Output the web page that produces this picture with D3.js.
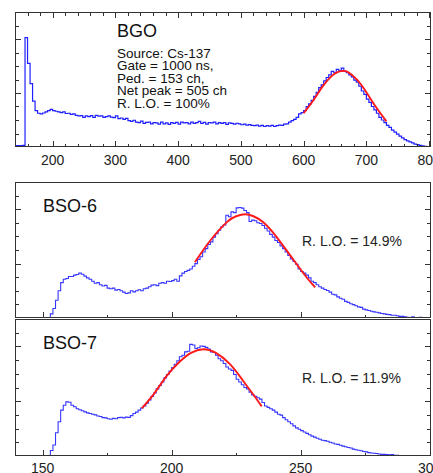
<!DOCTYPE html>
<html><head><meta charset="utf-8">
<script src="https://cdn.jsdelivr.net/npm/d3@7"></script>
<style>
html,body{margin:0;padding:0;background:#fff;}
svg{display:block;font-family:"Liberation Sans",Arial,Helvetica,sans-serif;}
</style></head>
<body>
<svg id="c" width="433" height="473"></svg>
<script>
// ---------- DATA ----------
// BGO spectrum: 4-channel bins starting at channel 140
const bgoStart = 140, bgoBin = 4;
const bgoCounts = [
0.1,0.1,0.1,0.12,8.1,6.2,4.7,3.4,2.7,2.5,2.45,2.52,2.6,2.7,2.78,2.7,2.65,2.6,2.55,2.6,
2.48,2.5,2.42,2.45,2.35,2.3,2.32,2.2,2.3,2.25,2.32,2.2,2.35,2.28,2.3,2.2,2.25,2.3,2.22,2.18,
2.3,2.1,2.15,2.05,2.12,1.95,1.9,1.98,1.85,1.8,1.92,1.75,1.82,1.85,1.72,1.8,1.78,1.7,1.85,1.72,
1.78,1.68,1.8,1.75,1.82,1.7,1.85,1.78,1.8,1.72,1.85,1.75,1.8,1.9,1.75,1.82,1.7,1.8,1.78,1.85,
1.72,1.8,1.75,1.8,1.68,1.78,1.75,1.7,1.76,1.72,1.65,1.7,1.62,1.66,1.6,1.58,1.62,1.55,1.6,1.52,
1.58,1.55,1.6,1.52,1.58,1.62,1.6,1.7,1.72,1.85,1.95,2.05,2.2,2.45,2.55,2.7,3.0,3.2,3.45,3.75,
4.05,4.4,4.6,4.9,5.15,5.35,5.6,5.5,5.75,5.65,5.85,5.6,5.5,5.35,5.2,4.95,4.8,4.5,4.15,3.9,
3.55,3.3,3.0,2.75,2.5,2.2,2.0,1.8,1.6,1.45,1.25,1.1,0.95,0.8,0.68,0.55,0.45,0.38,0.3,0.22,
0.18,0.12,0.08,0.05,0.03
];
const bgoFitCh  = [600,615,630,645,655,662,670,685,700,715,732];
const bgoFitVal = [2.5,3.42,4.47,5.27,5.57,5.63,5.57,4.99,4.06,2.98,1.9];

// BSO spectra: 1-channel bins starting at channel 140
const bsoStart = 140, bsoBin = 1;
const bso6Counts = [
0,0,0,0,0,0,0,0,0,0,0,0,0,
0.3,0.7,1.3,2.0,2.6,2.85,2.9,3.05,3.05,3.15,3.2,3.3,3.22,3.08,2.95,2.85,2.7,2.55,2.6,2.45,2.35,2.4,2.2,2.15,2.2,2.05,2.1,
2.0,1.9,1.8,1.85,2.0,1.92,2.0,2.08,2.0,2.15,2.2,2.3,2.42,2.45,2.38,2.55,2.6,2.55,2.7,2.68,
2.75,2.85,2.7,3.1,3.3,3.42,3.5,3.6,3.8,4.0,4.3,4.5,4.85,5.1,5.4,5.6,5.95,6.2,6.45,6.7,
6.85,7.55,7.45,7.8,7.75,8.1,8.12,8.08,7.9,7.75,7.1,7.2,7.15,7.0,6.95,6.8,6.6,6.4,6.15,5.95,
5.7,5.55,5.3,5.1,4.85,4.6,4.35,4.15,3.95,3.6,3.42,3.3,3.15,2.95,2.7,2.6,2.45,2.3,2.2,2.1,
2.02,1.9,1.75,1.7,1.55,1.45,1.38,1.22,1.15,1.05,0.98,0.9,0.82,0.78,0.65,0.6,0.55,0.5,0.45,0.42,
0.38,0.33,0.3,0.27,0.25,0.2,0.2,0.17,0.12,0.12,0.08,0.06,0.04,0.08,0.03,0.02,0.05,0.01,0.02,0
];
const bso6FitCh  = [209,214.9,221.4,225,228.4,231.5,235.5,240.7,247.2,252.4,255.6];
const bso6FitVal = [4.1,5.68,7.05,7.48,7.63,7.5,7.04,5.95,4.28,2.96,2.26];

const bso7Counts = [
0,0,0,0,0,0,0,0,0,0,0,0,0,
0.4,0.8,1.7,2.5,3.35,3.7,3.95,3.92,3.7,3.6,3.45,3.38,3.3,3.22,3.15,3.1,3.05,3.0,2.92,2.88,2.8,2.78,2.72,2.68,2.75,2.72,2.8,
2.82,2.78,2.84,2.82,2.95,3.1,3.2,3.35,3.5,3.65,3.85,4.1,4.35,4.6,4.9,5.15,5.4,5.7,5.95,6.2,
6.45,6.7,6.95,7.25,7.35,7.6,7.65,8.15,8.1,7.85,7.9,8.03,8.0,7.93,7.8,7.6,7.55,7.35,7.1,6.95,
6.75,6.5,6.35,6.25,5.95,5.6,5.4,5.2,5.0,4.9,4.65,4.45,4.35,4.25,4.15,3.9,3.65,3.55,3.45,3.35,
3.2,3.05,2.98,2.8,2.65,2.5,2.35,2.2,2.05,1.95,1.85,1.75,1.65,1.55,1.45,1.38,1.3,1.22,1.15,1.12,
1.08,1.0,0.95,0.88,0.85,0.78,0.72,0.68,0.62,0.58,0.5,0.46,0.42,0.38,0.33,0.3,0.25,0.22,0.2,0.18,
0.15,0.12,0.12,0.1,0.08,0.1,0.05,0.05,0.03,0.04,0.02,0.02,0.01,0,0,0,0,0,0,0
];
const bso7FitCh  = [188.4,193,198.1,203,207.5,212.3,217,222.6,227.8,231.7,234.9];
const bso7FitVal = [3.48,4.5,5.85,6.86,7.53,7.79,7.54,6.7,5.46,4.47,3.62];

const topTickLabels = ["200","300","400","500","600","700","800"];
const botTickLabels = ["150","200","250","300"];
const bgoInfo = ["Source: Cs-137","Gate = 1000 ns,","Ped. = 153 ch,","Net peak = 505 ch","R. L.O. = 100%"];
const panelTitles = ["BGO","BSO-6","BSO-7"];
const rloLabels = ["R. L.O. = 14.9%","R. L.O. = 11.9%"];

// ---------- DRAW ----------
const svg = d3.select("#c");
const X0 = 15, X1 = 431;
const frameColor = "#333";

function panel(opts){
  const g = svg.append("g");
  const x = d3.scaleLinear().domain(opts.xDomain).range([X0, X1]);
  const y = d3.scaleLinear().domain([0,10]).range([opts.yBot, opts.yTop]);
  const id = "clip" + opts.key;
  svg.append("clipPath").attr("id", id).append("rect")
    .attr("x", X0).attr("y", opts.yTop).attr("width", X1-X0).attr("height", opts.yBot-opts.yTop);

  const pts = opts.counts.map((v,i)=>[opts.start + i*opts.bin, v]);
  pts.push([opts.start + opts.counts.length*opts.bin, opts.counts[opts.counts.length-1]]);
  const line = d3.line().x(d=>x(d[0])).y(d=>y(d[1])).curve(d3.curveStepAfter);
  g.append("path").datum(pts).attr("d", line).attr("fill","none")
    .attr("stroke", opts.color).attr("stroke-width", opts.lw).attr("clip-path", `url(#${id})`);

  const fpts = opts.fitCh.map((c,i)=>[c, opts.fitVal[i]]);
  g.append("path").datum(fpts)
    .attr("d", d3.line().x(d=>x(d[0])).y(d=>y(d[1])).curve(d3.curveNatural))
    .attr("fill","none").attr("stroke","#ff1a1a").attr("stroke-width",1.9);

  const fr = g.append("g").attr("shape-rendering","crispEdges");
  fr.append("rect").attr("x",X0+0.5).attr("y",opts.yTop+0.5)
    .attr("width",X1-X0-1).attr("height",opts.yBot-opts.yTop-1)
    .attr("fill","none").attr("stroke",frameColor).attr("stroke-width",1.2);

  for(let v=1; v<10; v++){
    const len = (v%4===0) ? 6 : 4;
    const yy = Math.round(y(v))+0.5;
    fr.append("line").attr("x1",X0).attr("x2",X0+len).attr("y1",yy).attr("y2",yy).attr("stroke",frameColor);
    fr.append("line").attr("x1",X1).attr("x2",X1-len).attr("y1",yy).attr("y2",yy).attr("stroke",frameColor);
  }
  opts.minorTicks.forEach(t=>{
    const xx = Math.round(x(t))+0.5;
    const len = opts.majorTicks.includes(t) ? 6 : 3.5;
    fr.append("line").attr("x1",xx).attr("x2",xx).attr("y1",opts.yBot).attr("y2",opts.yBot-len).attr("stroke",frameColor);
    if(opts.topTicks)
      fr.append("line").attr("x1",xx).attr("x2",xx).attr("y1",opts.yTop).attr("y2",opts.yTop+len).attr("stroke",frameColor);
  });
  if(opts.labels){
    opts.majorTicks.forEach((t,i)=>{
      g.append("text").attr("x",x(t)).attr("y",opts.labelY).attr("text-anchor","middle")
        .attr("font-size","14px").attr("fill","#222").text(opts.labels[i]);
    });
  }
  return {g,x,y};
}

const topMajor = [200,300,400,500,600,700,800];
const topMinor = d3.range(160, 801, 20);
const p1 = panel({key:"a", xDomain:[140,803], yTop:12, yBot:147, counts:bgoCounts, start:bgoStart, bin:bgoBin,
  color:"#1f1fff", lw:1.2, fitCh:bgoFitCh, fitVal:bgoFitVal, majorTicks:topMajor, minorTicks:topMinor,
  topTicks:true, labels:topTickLabels, labelY:165});
p1.g.append("text").attr("x",117).attr("y",37).attr("font-size","18px").attr("fill","#111").text(panelTitles[0]);
bgoInfo.forEach((s,i)=>{
  p1.g.append("text").attr("x",117).attr("y",58+i*12.4).attr("font-size","13.5px").attr("fill","#111").text(s);
});

const botMajor = [150,200,250,300];
const botMinor = [150,175,200,225,250,275,300];
const p2 = panel({key:"b", xDomain:[139.3,300.5], yTop:182, yBot:318, counts:bso6Counts, start:bsoStart, bin:bsoBin,
  color:"#3636ff", lw:1.1, fitCh:bso6FitCh, fitVal:bso6FitVal, majorTicks:botMajor, minorTicks:botMinor,
  topTicks:false, labels:null});
p2.g.append("text").attr("x",43).attr("y",212).attr("font-size","18px").attr("fill","#111").text(panelTitles[1]);
p2.g.append("text").attr("x",302).attr("y",246).attr("font-size","14px").attr("fill","#222").text(rloLabels[0]);

const p3 = panel({key:"c", xDomain:[139.3,300.5], yTop:319, yBot:456, counts:bso7Counts, start:bsoStart, bin:bsoBin,
  color:"#3636ff", lw:1.1, fitCh:bso7FitCh, fitVal:bso7FitVal, majorTicks:botMajor, minorTicks:botMinor,
  topTicks:false, labels:botTickLabels, labelY:472.5});
p3.g.append("text").attr("x",43).attr("y",349).attr("font-size","18px").attr("fill","#111").text(panelTitles[2]);
p3.g.append("text").attr("x",302).attr("y",383).attr("font-size","14px").attr("fill","#222").text(rloLabels[1]);
</script>
</body></html>
